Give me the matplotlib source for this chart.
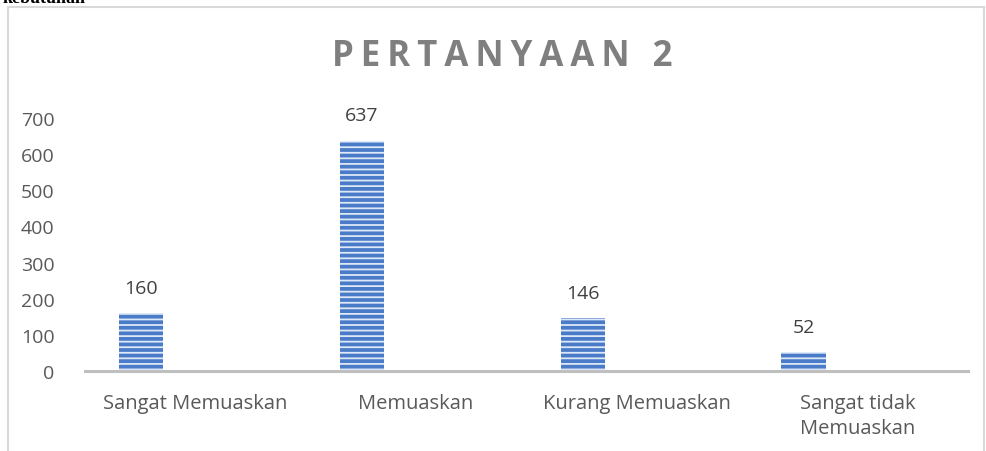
import matplotlib.pyplot as plt
from matplotlib.patches import Rectangle

categories = ['Sangat Memuaskan', 'Memuaskan', 'Kurang Memuaskan', 'Sangat tidak\nMemuaskan']
values = [160, 637, 146, 52]
yticks = [0, 100, 200, 300, 400, 500, 600, 700]
title = 'PERTANYAAN 2'

plt.rcParams['font.family'] = ['Open Sans', 'DejaVu Sans']
plt.rcParams['hatch.linewidth'] = 1.3

fig = plt.figure(figsize=(9.86, 4.52), dpi=100)
ax = fig.add_axes([0.0862, 0.177, 0.8955, 0.5597])

# chart frame (bottom edge runs off the page)
fig.patches.append(Rectangle((8 / 986, -0.05), (984 - 8) / 986, 1.05 - 8 / 452,
                             transform=fig.transFigure, fill=False,
                             edgecolor='#d9d9d9', linewidth=1.5))
fig.text(0.003, 1.003, 'kebutuhan', fontsize=13, fontweight='bold',
         family='Liberation Serif', va='center', ha='left', color='black')

x = list(range(len(categories)))
xb = [i - 0.245 for i in x]
bars = ax.bar(xb, values, width=0.2, color='#4a7bc8', edgecolor='#dde8f7',
              linewidth=0, hatch='---')

for xi, v in zip(xb, values):
    ax.annotate(str(v), (xi, v), xytext=(0, 12), textcoords='offset points',
                ha='center', va='bottom', fontsize=14, color='#404040')

ax.set_xlim(-0.5, 3.5)
ax.set_ylim(0, 700)
ax.set_yticks(yticks)
ax.set_xticks(x)
ax.set_xticklabels(categories, fontsize=14.5, color='#595959', linespacing=1.35)
ax.tick_params(axis='y', labelsize=14, labelcolor='#595959', length=0, pad=22)
ax.tick_params(axis='x', length=0, pad=16)
for s in ['top', 'right', 'left']:
    ax.spines[s].set_visible(False)
ax.spines['bottom'].set_color('#bfbfbf')
ax.spines['bottom'].set_linewidth(2.2)

fig.text(0.509, 0.875, '\u2009'.join(title), fontsize=25, fontweight='bold',
         color='#7f7f7f', ha='center', va='center')

fig.savefig('out.png', dpi=100)
